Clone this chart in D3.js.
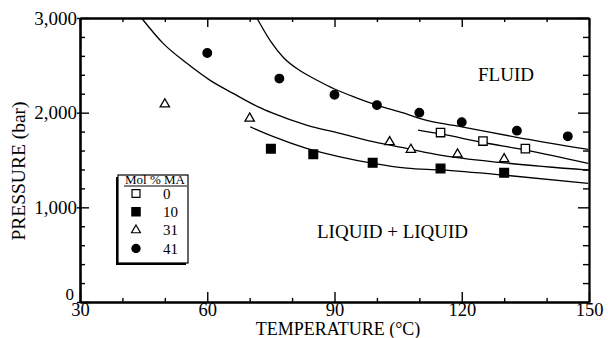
<!DOCTYPE html>
<html>
<head>
<meta charset="utf-8">
<script src="https://cdn.jsdelivr.net/npm/d3@7"></script>
<style>
  body { margin: 0; background: #fff; }
  svg text { font-family: "Liberation Serif", "Times New Roman", serif; fill: #000; }
  .axis path, .axis line { stroke: #000; }
</style>
</head>
<body>
<svg id="chart" width="608" height="338"></svg>
<script>
// measured points, by Mol % MA
var legendLabels = ["0", "10", "31", "41"];
var temp0 = [115, 125, 135], pres0 = [1790, 1700, 1620];
var temp10 = [75, 85, 99, 115, 130], pres10 = [1620, 1560, 1470, 1410, 1365];
var temp31 = [50, 70, 103, 108, 119, 130], pres31 = [2090, 1940, 1690, 1610, 1560, 1510];
var temp41 = [60, 77, 90, 100, 110, 120, 133, 145], pres41 = [2630, 2360, 2190, 2080, 2000, 1900, 1810, 1750];

// fitted curves
var fitT0 = [109.7, 115, 125, 135, 149.8], fitP0 = [1816, 1775, 1685, 1605, 1465];
var fitT10 = [70.1, 75.6, 83.4, 91.3, 99.1, 107, 115, 130, 149.8], fitP10 = [1851, 1746, 1623, 1534, 1465, 1415, 1395, 1340, 1253];
var fitT31 = [44.5, 49.6, 55.2, 60.6, 66.1, 72, 75.6, 83.4, 91.3, 99.1, 107, 114.9, 130, 149.8],
    fitP31 = [3000, 2732, 2521, 2344, 2204, 2062, 1993, 1869, 1781, 1693, 1623, 1552, 1470, 1394];
var fitT41 = [71.7, 75, 78, 82, 86, 90, 95, 100, 106, 112, 120, 133, 149.8],
    fitP41 = [3000, 2750, 2580, 2440, 2340, 2250, 2160, 2080, 2000, 1915, 1850, 1740, 1612];

var xMajor = [30, 60, 90, 120, 150], xMinor = [40, 50, 70, 80, 100, 110, 130, 140];
var yMajor = [0, 1000, 2000, 3000], yMinor = [200, 400, 600, 800, 1200, 1400, 1600, 1800, 2200, 2400, 2600, 2800];

var svg = d3.select("#chart");
var x = d3.scaleLinear().domain([30, 150]).range([80, 589]);
var y = d3.scaleLinear().domain([0, 3000]).range([302, 18]);
var fmt = d3.format(",");

var drawAxis = function(axis, tx, ty, size) {
  var g = svg.append("g").attr("class", "axis")
      .attr("transform", "translate(" + tx + "," + ty + ")")
      .call(axis);
  g.selectAll("text").style("font-size", size ? size + "px" : null);
  g.selectAll("line").attr("stroke-width", 1.4);
  g.select(".domain").attr("stroke-width", 1.8);
  g.attr("font-family", null);
  return g;
};

// bottom
drawAxis(d3.axisBottom(x).tickValues(xMajor).tickSize(-10).tickSizeOuter(0).tickPadding(1).tickFormat(d3.format("d")), 0, 302, 18.5)
  .selectAll("text").attr("y", 1).attr("dy", "0.71em");
drawAxis(d3.axisBottom(x).tickValues(xMinor).tickSize(-4).tickSizeOuter(0).tickFormat(""), 0, 302);
// top
drawAxis(d3.axisTop(x).tickValues(xMajor).tickSize(-9).tickSizeOuter(0).tickFormat(""), 0, 18);
drawAxis(d3.axisTop(x).tickValues(xMinor).tickSize(-4).tickSizeOuter(0).tickFormat(""), 0, 18);
// left
drawAxis(d3.axisLeft(y).tickValues(yMajor).tickSize(3).tickSizeOuter(0).tickPadding(0).tickFormat(fmt), 80, 0, 19)
  .selectAll("text").filter(function(d) { return d === 0; }).attr("x", -6).attr("y", -8).style("font-size", "17px");
drawAxis(d3.axisLeft(y).tickValues(yMajor).tickSize(-9).tickSizeOuter(0).tickFormat(""), 80, 0);
drawAxis(d3.axisLeft(y).tickValues(yMinor).tickSize(-5).tickSizeOuter(0).tickFormat(""), 80, 0);
// right
drawAxis(d3.axisRight(y).tickValues(yMajor).tickSize(-11).tickSizeOuter(0).tickFormat(""), 589, 0);
drawAxis(d3.axisRight(y).tickValues(yMinor).tickSize(-6).tickSizeOuter(0).tickFormat(""), 589, 0);

// axis titles
svg.append("text")
    .attr("x", 338).attr("y", 335)
    .attr("text-anchor", "middle")
    .style("font-size", "18px")
    .text("TEMPERATURE (°C)");

svg.append("text")
    .attr("transform", "translate(25,171) rotate(-90)")
    .attr("text-anchor", "middle")
    .style("font-size", "19.5px")
    .text("PRESSURE (bar)");

// region labels
svg.append("text").attr("x", 478).attr("y", 81).style("font-size", "19px").text("FLUID");
svg.append("text").attr("x", 317).attr("y", 238).style("font-size", "19px").text("LIQUID + LIQUID");

// fitted curves
var line = d3.line()
    .x(function(d) { return x(d[0]); })
    .y(function(d) { return y(d[1]); })
    .curve(d3.curveMonotoneX);

[[fitT0, fitP0], [fitT10, fitP10], [fitT31, fitP31], [fitT41, fitP41]].forEach(function(f) {
  svg.append("path")
      .datum(d3.zip(f[0], f[1]))
      .attr("d", line)
      .attr("fill", "none")
      .attr("stroke", "#000")
      .attr("stroke-width", 1.3);
});

// symbols
var styles = [
  {type: d3.symbolSquare, size: 70, fill: "#fff"},
  {type: d3.symbolSquare, size: 76, fill: "#000"},
  {type: d3.symbolTriangle, size: 38, fill: "#fff"},
  {type: d3.symbolCircle, size: 58, fill: "#000"}
];
var series = [[temp0, pres0], [temp10, pres10], [temp31, pres31], [temp41, pres41]];

series.forEach(function(s, i) {
  var st = styles[i];
  svg.append("g").selectAll("path")
    .data(d3.zip(s[0], s[1]))
    .enter().append("path")
      .attr("transform", function(d) { return "translate(" + x(d[0]) + "," + y(d[1]) + ")"; })
      .attr("d", d3.symbol().type(st.type).size(st.size))
      .attr("fill", st.fill)
      .attr("stroke", "#000")
      .attr("stroke-width", 1.3);
});

// legend
var lg = svg.append("g");
lg.append("rect").attr("x", 116).attr("y", 177).attr("width", 70).attr("height", 88).attr("fill", "#000");
lg.append("rect").attr("x", 118).attr("y", 175).attr("width", 70).attr("height", 88)
    .attr("fill", "#fff").attr("stroke", "#000").attr("stroke-width", 1.2);
lg.append("text").attr("x", 125).attr("y", 184).style("font-size", "13px").text("Mol % MA");
lg.append("line").attr("x1", 124).attr("x2", 187).attr("y1", 186).attr("y2", 186)
    .attr("stroke", "#000").attr("stroke-width", 1);

var rowY = d3.scalePoint().domain(legendLabels).range([193.5, 248.5]);
legendLabels.forEach(function(lab, i) {
  var st = styles[i];
  lg.append("path")
      .attr("transform", "translate(136," + rowY(lab) + ")")
      .attr("d", d3.symbol().type(st.type).size(st.size * 0.9))
      .attr("fill", st.fill)
      .attr("stroke", "#000")
      .attr("stroke-width", 1.2);
  lg.append("text")
      .attr("x", 163).attr("y", rowY(lab) + 5)
      .style("font-size", "15px")
      .text(lab);
});
</script>
</body>
</html>
